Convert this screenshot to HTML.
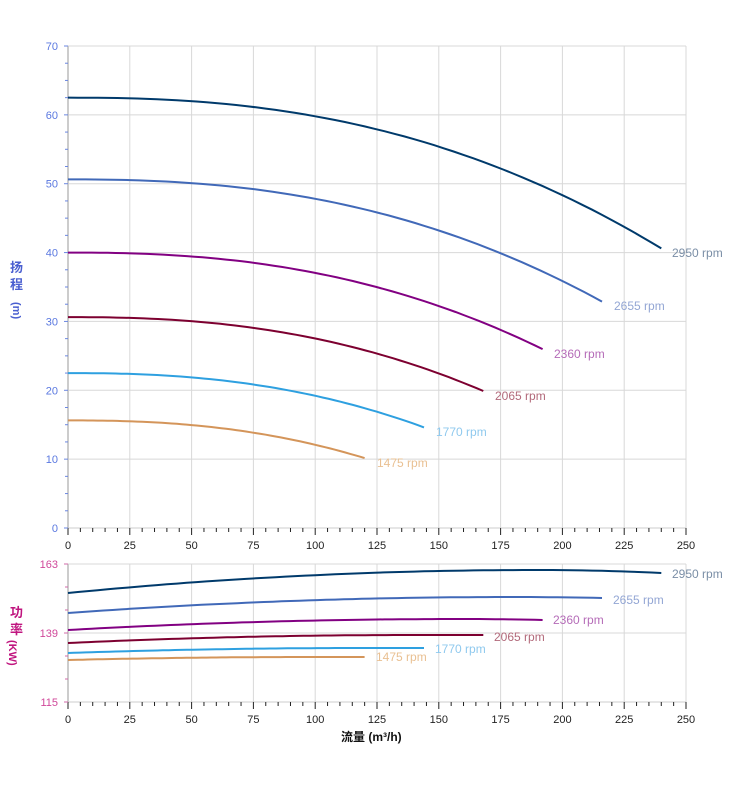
<!DOCTYPE html>
<html><head><meta charset="utf-8"><style>
body{margin:0;background:#fff;}
svg{display:block;font-family:"Liberation Sans","Noto Sans CJK SC",sans-serif;}
</style></head><body>
<svg id="s" width="752" height="797" xmlns="http://www.w3.org/2000/svg">
<rect width="752" height="797" fill="#fff"/>
<g id="grid" stroke="#d8d8d8" stroke-width="1"></g>
<g id="ax"></g>
<g id="curves" fill="none" stroke-width="2"></g>
<g font-size="12">
<text x="672" y="257" fill="#7a8ea6">2950 rpm</text>
<text x="614" y="310" fill="#93a6d4">2655 rpm</text>
<text x="554" y="358" fill="#b56cb8">2360 rpm</text>
<text x="495" y="400" fill="#b2697a">2065 rpm</text>
<text x="436" y="436" fill="#8fc9ee">1770 rpm</text>
<text x="377" y="467" fill="#e9c092">1475 rpm</text>
<text x="672" y="578" fill="#7a8ea6">2950 rpm</text>
<text x="613" y="604" fill="#93a6d4">2655 rpm</text>
<text x="553" y="624" fill="#b56cb8">2360 rpm</text>
<text x="494" y="641" fill="#b2697a">2065 rpm</text>
<text x="435" y="653" fill="#8fc9ee">1770 rpm</text>
<text x="376" y="661" fill="#e9c092">1475 rpm</text>
</g>
<g font-size="13" font-weight="bold" fill="#4a5fd0">
<text x="10" y="272">扬</text><text x="10" y="289">程</text>
<text x="13" y="302" transform="rotate(90 13 302)" font-size="11">(m)</text>
</g>
<g font-size="13" font-weight="bold" fill="#c0157f">
<text x="10" y="617">功</text><text x="10" y="634">率</text>
<text x="9" y="640" transform="rotate(90 9 640)" font-size="11">(KW)</text>
</g>
<text x="341" y="741" font-size="12" font-weight="bold" fill="#111">流量 (m³/h)</text>
</svg>
<script>
const NS="http://www.w3.org/2000/svg";
function el(p,t,a,txt){const e=document.createElementNS(NS,t);for(const k in a)e.setAttribute(k,a[k]);if(txt!==undefined)e.textContent=txt;document.getElementById(p).appendChild(e);return e;}
const X=q=>68+q*618/250;
const YT=h=>528-h*482/70;
for(let q=0;q<=250;q+=25){el('grid','line',{x1:X(q),x2:X(q),y1:46,y2:528});el('grid','line',{x1:X(q),x2:X(q),y1:564,y2:702});}
for(let h=10;h<=70;h+=10)el('grid','line',{x1:68,x2:686,y1:YT(h),y2:YT(h)});
el('grid','line',{x1:68,x2:686,y1:564,y2:564});el('grid','line',{x1:68,x2:686,y1:633,y2:633});
el('ax','line',{x1:68,x2:68,y1:46,y2:528,stroke:'#ccc','stroke-width':2});
el('ax','line',{x1:68,x2:68,y1:564,y2:702,stroke:'#ccc','stroke-width':2});
el('ax','line',{x1:68,x2:686,y1:528,y2:528,stroke:'#ccc','stroke-width':1});
el('ax','line',{x1:68,x2:686,y1:702,y2:702,stroke:'#ccc','stroke-width':1});
for(let q=0;q<=250;q+=5){const mj=q%25==0;for(const y of [528,702])el('ax','line',{x1:X(q),x2:X(q),y1:y,y2:y+(mj?7:4),stroke:'#222','stroke-width':1});
 if(mj){for(const y of [549,723])el('ax','text',{x:X(q),y:y,'text-anchor':'middle','font-size':11,fill:'#222'},q);}}
for(let h=0;h<=70;h+=2.5){const mj=h%10==0;el('ax','line',{x1:mj?64:65,x2:68,y1:YT(h),y2:YT(h),stroke:'#6a86e0','stroke-width':1});
 if(mj)el('ax','text',{x:58,y:YT(h)+4,'text-anchor':'end','font-size':11,fill:'#5a78e0'},h);}
for(let i=0;i<=6;i++){const y=564+i*23;el('ax','line',{x1:i%3==0?64:65,x2:68,y1:y,y2:y,stroke:'#d06aa8','stroke-width':1});}
[[163,564],[139,633],[115,702]].forEach(([v,y])=>el('ax','text',{x:58,y:y+4,'text-anchor':'end','font-size':11,fill:'#d0489a'},v));
const sp=[[1,'#003a6b'],[0.9,'#4169b8'],[0.8,'#820082'],[0.7,'#7d0030'],[0.6,'#2ea0e0'],[0.5,'#d4955a']];
const P=2.39,K=21.9/Math.pow(240,P);
sp.forEach(([r,c])=>{let d='';const qm=240*r;for(let i=0;i<=60;i++){const q=qm*i/60;const h=r*r*(62.5-K*Math.pow(q/r,P));d+=(i?'L':'M')+X(q).toFixed(1)+','+YT(h).toFixed(1);}el('curves','path',{d:d,stroke:c});});
const pw=[[593,570,573,190],[613,597,598,180],[630,619,620,160],[643,635,635,140],[653,648,648,120],[660,657,657,100]];
pw.forEach(([y0,yp,ye,qp],i)=>{const r=sp[i][0],qm=240*r;let d='';for(let k=0;k<=60;k++){const q=qm*k/60;let y;if(q<=qp){const t=q/qp;y=y0+(yp-y0)*(1-(1-t)*(1-t));}else{const t=(q-qp)/(qm-qp);y=yp+(ye-yp)*t*t;}d+=(k?'L':'M')+X(q).toFixed(1)+','+y.toFixed(1);}el('curves','path',{d:d,stroke:sp[i][1]});});
</script>
</body></html>
